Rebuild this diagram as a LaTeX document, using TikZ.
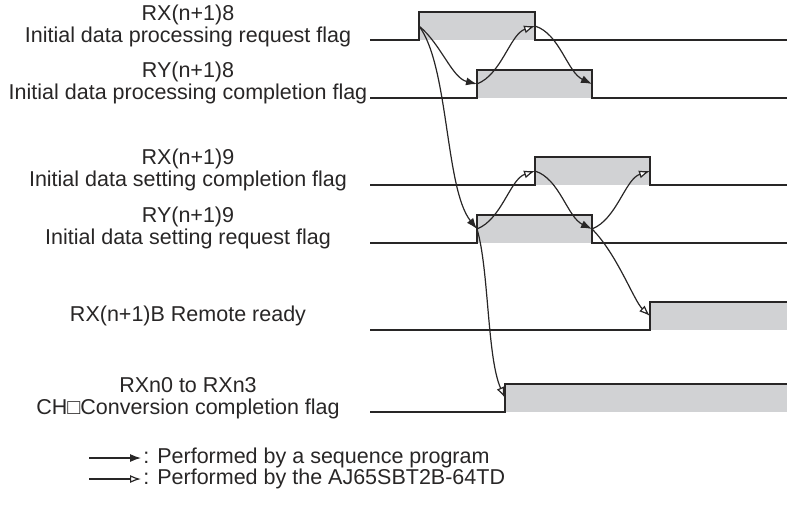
\documentclass[tikz,border=0pt]{standalone}
\usepackage{fontspec}
\setmainfont{Liberation Sans}
\usepackage{tikz}
\usetikzlibrary{arrows.meta}
\definecolor{pulsegray}{RGB}{209,210,212}
\definecolor{linegray}{RGB}{40,38,38}
\tikzstyle{signal}=[draw=linegray,line width=1pt]
\tikzstyle{pulse}=[fill=pulsegray]
\tikzstyle{flag}=[font=\fontsize{10.75}{11}\selectfont,align=center,inner sep=0pt,text=linegray]
\tikzstyle{legend}=[font=\fontsize{10.75}{11}\selectfont,anchor=west,inner sep=1pt,text=linegray]
\tikzstyle{edge} = [draw=linegray,line width=0.6pt,-{Latex[length=5.5pt,width=4pt]}]
\tikzstyle{autoedge} = [draw=linegray,line width=0.6pt,-{Latex[length=5.5pt,width=4pt,fill=white]}]

\begin{document}
\begin{tikzpicture}[x=0.5pt,y=-0.5pt]
\useasboundingbox (0,0) rectangle (787,510);

   \def\xs{370};
   \def\xe{787};
   \def\h{28};

% Labels
    \foreach \pos/\name/\text in {{(188,26)/lbrxa/{RX(n+1)8\\Initial data processing request flag}},
        {(188,83)/lbrya/{RY(n+1)8\\Initial data processing completion flag}},
        {(188,170)/lbrxb/{RX(n+1)9\\Initial data setting completion flag}},
        {(188,228)/lbryb/{RY(n+1)9\\Initial data setting request flag}},
        {(188,316)/lbrdy/{RX(n+1)B Remote ready}},
        {(188,398)/lbcnv/{RXn0 to RXn3\\CH□Conversion completion flag}}}
        \node[flag] (\name) at \pos {\text};

%pulses
    \foreach \low/\up/\down/\name in {40/419/535/rxa, 98/477/592/rya, 185/535/650/rxb, 243/477/592/ryb}
    {
        \fill[pulse] (\up,\low) rectangle (\down,\low-\h);
        \draw[signal] (\xs,\low) -- (\up,\low) -- (\up,\low-\h) -- (\down,\low-\h) -- (\down,\low) -- (\xe,\low);
        \coordinate (\name-up) at (\up,\low-\h/2);
        \coordinate (\name-dn) at (\down,\low-\h/2);
    }
%steps
    \foreach \low/\up/\name in {330/650/rdy, 412/505/cnv}
    {
        \fill[pulse] (\up,\low) rectangle (\xe,\low-\h);
        \draw[signal] (\xs,\low) -- (\up,\low) -- (\up,\low-\h) -- (\xe,\low-\h);
        \coordinate (\name-up) at (\up,\low-\h/2);
    }

% sequence program
    \draw[edge] (rxa-up) .. controls +(22,18) and +(-25,-6) .. (rya-up);
    \draw[edge] (rxa-up) .. controls +(30,40) and +(-32,-40) .. (ryb-up);
    \draw[edge] (rxa-dn) .. controls +(25,8) and +(-25,-12) .. (rya-dn);
    \draw[edge] (rxb-up) .. controls +(25,8) and +(-25,-12) .. (ryb-dn);

% module
    \draw[autoedge] (rya-up) .. controls +(25,-10) and +(-25,8) .. (rxa-dn);
    \draw[autoedge] (ryb-up) .. controls +(25,-10) and +(-25,8) .. (rxb-up);
    \draw[autoedge] (ryb-dn) .. controls +(25,-10) and +(-25,8) .. (rxb-dn);
    \draw[autoedge] (ryb-dn) .. controls +(25,25) and +(-16,-15) .. (rdy-up);
    \draw[autoedge] (ryb-up) .. controls +(12,40) and +(-18,-40) .. (cnv-up);

% Legend
    \coordinate (lga) at (89,458);
    \coordinate (lgb) at (89,479);
    \node[legend] (lgtxta) at (141,458) {: Performed by a sequence program};
    \node[legend] (lgtxtb) at (141,479) {: Performed by the AJ65SBT2B-64TD};
    \draw[edge] (lga) -- (lgtxta.west);
    \draw[autoedge] (lgb) -- (lgtxtb.west);

\end{tikzpicture}
\end{document}
